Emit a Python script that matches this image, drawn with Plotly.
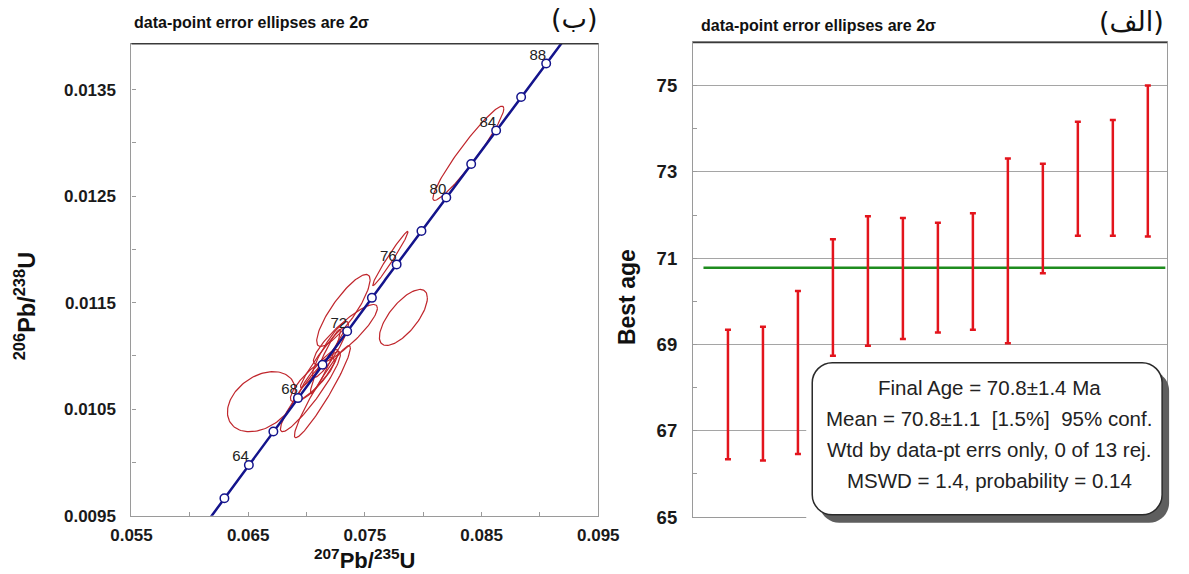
import numpy as np
import plotly.graph_objects as go

W, H = 1189, 574

# ---------------- data ----------------
# Concordia ages (Ma): white markers every 2 Ma, labels every 4 Ma
marker_ages = [62, 64, 66, 68, 70, 72, 74, 76, 78, 80, 82, 84, 86, 88, 90]
label_ages = [64, 68, 72, 76, 80, 84, 88]
LAMBDA_238 = 1.55125e-10
LAMBDA_235 = 9.8485e-10

# 2-sigma error ellipses: centre (207Pb/235U, 206Pb/238U), half extents, error correlation
ell_x = [0.066135, 0.078298, 0.083865, 0.077184, 0.073158, 0.070332, 0.071360,
         0.071360, 0.072045, 0.073330, 0.071017, 0.071617, 0.070503]
ell_y = [0.010571, 0.011361, 0.012902, 0.011915, 0.011427, 0.010665, 0.010665,
         0.010985, 0.011060, 0.011201, 0.010825, 0.010947, 0.010778]
ell_sx = [0.002912, 0.002056, 0.003041, 0.001516, 0.002287, 0.002570, 0.002398,
          0.001884, 0.001542, 0.002741, 0.001713, 0.001285, 0.001884]
ell_sy = [0.000282, 0.000263, 0.000442, 0.000254, 0.000338, 0.000376, 0.000432,
          0.000282, 0.000263, 0.000282, 0.000235, 0.000301, 0.000207]
ell_rho = [0.35, 0.70, 0.95, 0.98, 0.85, 0.93, 0.95, 0.97, 0.90, 0.88, 0.90, 0.95, 0.85]

# Weighted-mean plot: best ages with 2-sigma errors
grain = list(range(1, 14))
best_age = [67.84, 67.86, 68.35, 70.09, 70.47, 70.53, 70.55, 70.69, 71.17, 71.92, 72.84, 72.86, 73.25]
age_err = [1.50, 1.55, 1.89, 1.35, 1.50, 1.40, 1.27, 1.35, 2.14, 1.27, 1.32, 1.34, 1.75]
mean_age = 70.78

x_ticks = [0.055, 0.065, 0.075, 0.085, 0.095]
x_minor = [0.060, 0.070, 0.080, 0.090]
y_ticks = [0.0095, 0.0105, 0.0115, 0.0125, 0.0135]
y_minor = [0.0100, 0.0110, 0.0120, 0.0130]
age_ticks = [65, 67, 69, 71, 73, 75]
age_minor = [66, 68, 70, 72, 74]

box_lines = ["Final Age = 70.8±1.4 Ma",
             "Mean = 70.8±1.1 \u00a0[1.5%] \u00a095% conf.",
             "Wtd by data-pt errs only, 0 of 13 rej.",
             "MSWD = 1.4, probability = 0.14"]

# ---------------- helpers ----------------
def conc(t_ma):
    t = np.asarray(t_ma, dtype=float) * 1e6
    return np.expm1(LAMBDA_235 * t), np.expm1(LAMBDA_238 * t)

# the photographed page shows the figure slightly reduced; map target pixels to layout pixels
SX, OX, SY, OY = 0.965, 20.5, 0.9825, 0.25

def lx(t):
    return (t - OX) / SX

def ly(t):
    return (t - OY) / SY

def px(t):
    return lx(t) / W

def py(t):
    return 1 - ly(t) / H

def clamp(v):
    return min(max(v, 0.0), 1.0)

FONT = "Arial, Liberation Sans, sans-serif"
NAVY = "#14148c"
RED_E = "#c0262c"
RED_B = "#e3141c"

fig = go.Figure()

ex, ey = [], []
th = np.linspace(0, 2 * np.pi, 120)
for cx, cy, sx, sy, r in zip(ell_x, ell_y, ell_sx, ell_sy, ell_rho):
    ex += list(cx + sx * np.cos(th)) + [None]
    ey += list(cy + sy * (r * np.cos(th) + np.sqrt(1 - r * r) * np.sin(th))) + [None]
fig.add_trace(go.Scatter(x=ex, y=ey, mode="lines", line=dict(color=RED_E, width=1.2),
                         hoverinfo="skip", showlegend=False, xaxis="x", yaxis="y"))

t_line = np.linspace(60, 92, 300)
cxl, cyl = conc(t_line)
fig.add_trace(go.Scatter(x=cxl, y=cyl, mode="lines", line=dict(color=NAVY, width=2.5),
                         showlegend=False, xaxis="x", yaxis="y"))
mx, my = conc(marker_ages)
fig.add_trace(go.Scatter(x=mx, y=my, mode="markers",
                         marker=dict(size=8.5, color="white", line=dict(color=NAVY, width=1.5)),
                         showlegend=False, xaxis="x", yaxis="y"))
tx, ty = conc(label_ages)
fig.add_trace(go.Scatter(x=tx, y=ty, mode="text", text=[str(a) for a in label_ages],
                         textposition="top left",
                         textfont=dict(family=FONT, size=15, color="#222"),
                         showlegend=False, xaxis="x", yaxis="y"))

fig.add_trace(go.Scatter(x=[0.3, 13.5], y=[mean_age, mean_age], mode="lines",
                         line=dict(color="#1e8c1e", width=2.5), showlegend=False,
                         xaxis="x2", yaxis="y2"))
fig.add_trace(go.Scatter(x=grain, y=best_age, mode="markers",
                         marker=dict(size=1, opacity=0),
                         error_y=dict(type="data", array=age_err, visible=True,
                                      color=RED_B, thickness=2.5, width=3),
                         showlegend=False, xaxis="x2", yaxis="y2"))

# target panel frames (pixels in the photographed picture)
L_X0, L_X1, L_Y0, L_Y1 = 131, 598, 44, 516
R_X0, R_X1, R_Y0, R_Y1 = 692.7, 1167, 42.7, 517.3
r_xmax = (R_X1 - R_X0) / 35.0  # 35 px per grain

axis_common = dict(showline=True, linecolor="#9a9a9a", linewidth=1.2, mirror=True,
                   ticks="inside", ticklen=4, tickcolor="#9a9a9a", zeroline=False,
                   showgrid=False,
                   tickfont=dict(family=FONT, size=17, color="#1a1a1a", weight="bold"))

fig.update_layout(
    width=W, height=H, margin=dict(l=0, r=0, t=0, b=0), autosize=False,
    paper_bgcolor="white", plot_bgcolor="white", showlegend=False,
    xaxis=dict(domain=[clamp(px(L_X0)), clamp(px(L_X1))], range=[0.055, 0.095],
               tickvals=x_ticks, ticktext=[f"{v:.3f}" for v in x_ticks],
               minor=dict(tickvals=x_minor, ticks="inside", ticklen=4, tickcolor="#9a9a9a"),
               ticklabelstandoff=4, anchor="y", **axis_common),
    yaxis=dict(domain=[clamp(py(L_Y1)), clamp(py(L_Y0))], range=[0.0095, 0.01393],
               tickvals=y_ticks, ticktext=[f"{v:.4f}" for v in y_ticks],
               minor=dict(tickvals=y_minor, ticks="inside", ticklen=4, tickcolor="#9a9a9a"),
               ticklabelstandoff=11, anchor="x", **axis_common),
    xaxis2=dict(domain=[clamp(px(R_X0)), clamp(px(R_X1))], range=[0, r_xmax], showticklabels=False,
                showline=True, linecolor="#9a9a9a", linewidth=1.2, mirror=True,
                ticks="", showgrid=False, zeroline=False, anchor="y2"),
    yaxis2=dict(domain=[clamp(py(R_Y1)), clamp(py(R_Y0))], range=[65, 76], tickvals=age_ticks,
                showline=True, linecolor="#9a9a9a", linewidth=1.2, mirror=True,
                ticks="inside", ticklen=4, tickcolor="#9a9a9a",
                minor=dict(tickvals=age_minor, ticks="inside", ticklen=4, tickcolor="#9a9a9a"),
                showgrid=True, gridcolor="#a5a5a5", gridwidth=1.2, zeroline=False,
                ticklabelstandoff=11, anchor="x2",
                tickfont=dict(family=FONT, size=18.5, color="#1a1a1a", weight="bold")),
)

shapes = []
shapes.append(dict(type="line", xref="paper", yref="paper", x0=px(L_X0), x1=px(L_X1),
                   y0=py(L_Y0), y1=py(L_Y0), line=dict(color="#3a3a3a", width=1.5)))
shapes.append(dict(type="line", xref="paper", yref="paper", x0=px(R_X0), x1=clamp(px(R_X1)),
                   y0=py(R_Y0), y1=py(R_Y0), line=dict(color="#3a3a3a", width=1.5)))
# white patch hiding the frame corner behind the statistics box
shapes.append(dict(type="rect", xref="paper", yref="paper", x0=px(806), x1=1.0,
                   y0=0.0, y1=py(418), fillcolor="white", line=dict(width=0), layer="above"))


def rrect(x0, y0, x1, y1, r):
    k = 0.45
    return (f"M {px(x0 + r)},{py(y0)} L {px(x1 - r)},{py(y0)} "
            f"C {px(x1 - r * k)},{py(y0)} {px(x1)},{py(y0 + r * k)} {px(x1)},{py(y0 + r)} "
            f"L {px(x1)},{py(y1 - r)} "
            f"C {px(x1)},{py(y1 - r * k)} {px(x1 - r * k)},{py(y1)} {px(x1 - r)},{py(y1)} "
            f"L {px(x0 + r)},{py(y1)} "
            f"C {px(x0 + r * k)},{py(y1)} {px(x0)},{py(y1 - r * k)} {px(x0)},{py(y1 - r)} "
            f"L {px(x0)},{py(y0 + r)} "
            f"C {px(x0)},{py(y0 + r * k)} {px(x0 + r * k)},{py(y0)} {px(x0 + r)},{py(y0)} Z")

BX0, BY0, BX1, BY1 = 812, 363, 1162, 515
shapes.append(dict(type="path", xref="paper", yref="paper", path=rrect(BX0 + 7, BY0 + 8, BX1 + 7, BY1 + 8, 20),
                   fillcolor="#5e5e5e", line=dict(width=0), layer="above"))
shapes.append(dict(type="path", xref="paper", yref="paper", path=rrect(BX0, BY0, BX1, BY1, 20),
                   fillcolor="white", line=dict(color="#2a2a2a", width=1.5), layer="above"))
fig.update_layout(shapes=shapes)

ann = []
def add_text(text, x, y, size, xanchor="center", angle=0, family=FONT, weight="normal", color="#111"):
    ann.append(dict(text=text, x=px(x), y=py(y), xref="paper", yref="paper",
                    xanchor=xanchor, yanchor="middle", textangle=angle, showarrow=False,
                    font=dict(family=family, size=size, color=color, weight=weight)))

add_text("data-point error ellipses are 2σ", 132, 23, 16, xanchor="left", weight="bold")
add_text("data-point error ellipses are 2σ", 699, 26, 16, xanchor="left", weight="bold")
add_text("(ب)", 600, 19, 27, xanchor="right", family="DejaVu Sans")
add_text("(الف)", 1166, 22, 27, xanchor="right", family="DejaVu Sans")
add_text("<sup>206</sup>Pb/<sup>238</sup>U", 24, 306, 23.5, angle=-90, weight="bold")
add_text("<sup>207</sup>Pb/<sup>235</sup>U", 365, 559, 22, weight="bold")
add_text("Best age", 626, 297, 23, angle=-90, weight="bold")
for i, line in enumerate(box_lines):
    add_text(line, (BX0 + BX1) / 2 + 2, 388 + 31 * i, 20.5, color="#222")
fig.update_layout(annotations=ann)

fig.write_html("out.html")
